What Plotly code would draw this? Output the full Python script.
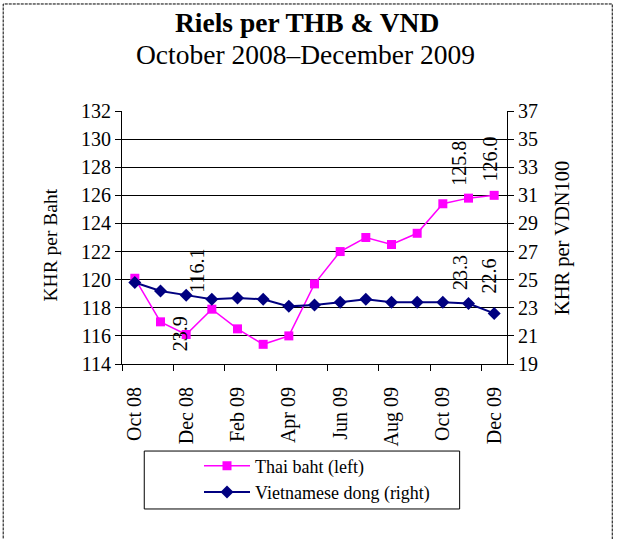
import plotly.graph_objects as go

months = ["Oct 08", "Nov 08", "Dec 08", "Jan 09", "Feb 09", "Mar 09", "Apr 09", "May 09",
          "Jun 09", "Jul 09", "Aug 09", "Sep 09", "Oct 09", "Nov 09", "Dec 09"]
thb = [120.1, 117.0, 116.1, 117.9, 116.5, 115.4, 116.0, 119.7, 122.0, 123.0, 122.5, 123.3, 125.4, 125.8, 126.0]
vnd = [24.8, 24.2, 23.9, 23.6, 23.7, 23.6, 23.1, 23.2, 23.4, 23.6, 23.4, 23.4, 23.4, 23.3, 22.6]

# labelled points: (index, xshift, yshift)
thb_labels = [(2, 11, 64), (13, -9, 35), (14, -4, 36)]
vnd_labels = [(2, -6, -39), (13, -9, 31), (14, -5, 37)]

FONT = "Liberation Serif, Times New Roman, serif"
idx = list(range(len(months)))

fig = go.Figure()
fig.add_trace(go.Scatter(
    x=idx, y=thb, name="Thai baht (left)", mode="lines+markers",
    line=dict(color="#FF00FF", width=1.5),
    marker=dict(symbol="square", size=9, color="#FF00FF"),
    yaxis="y"))
fig.add_trace(go.Scatter(
    x=idx, y=vnd, name="Vietnamese dong (right)", mode="lines+markers",
    line=dict(color="#000080", width=2),
    marker=dict(symbol="diamond", size=10, color="#000080"),
    yaxis="y2"))

annotations = []
for i, xs, ys in thb_labels:
    annotations.append(dict(x=i, y=thb[i], xref="x", yref="y", text=f"{thb[i]:.1f}",
                            textangle=-90, showarrow=False, xanchor="center", yanchor="middle",
                            xshift=xs, yshift=ys, font=dict(family=FONT, size=20, color="black")))
for i, xs, ys in vnd_labels:
    annotations.append(dict(x=i, y=vnd[i], xref="x", yref="y2", text=f"{vnd[i]:.1f}",
                            textangle=-90, showarrow=False, xanchor="center", yanchor="middle",
                            xshift=xs, yshift=ys, font=dict(family=FONT, size=20, color="black")))

# titles
annotations.append(dict(x=0.4806, y=1.348, xref="paper", yref="paper", text="<b>Riels per THB & VND</b>",
                        showarrow=False, xanchor="center", yanchor="middle",
                        font=dict(family=FONT, size=27.5, color="black")))
annotations.append(dict(x=0.4754, y=1.225, xref="paper", yref="paper", text="October 2008–December 2009",
                        showarrow=False, xanchor="center", yanchor="middle",
                        font=dict(family=FONT, size=27.5, color="black")))
annotations.append(dict(x=-0.186, y=0.47, xref="paper", yref="paper", text="KHR per Baht",
                        textangle=-90, showarrow=False, xanchor="center", yanchor="middle",
                        font=dict(family=FONT, size=19.5, color="black")))
annotations.append(dict(x=1.1445, y=0.5, xref="paper", yref="paper", text="KHR per VDN100",
                        textangle=-90, showarrow=False, xanchor="center", yanchor="middle",
                        font=dict(family=FONT, size=20.5, color="black")))

shapes = [
    dict(type="rect", xref="paper", yref="paper", x0=-0.3086, x1=1.2734, y0=-0.8, y1=1.423,
         line=dict(color="black", width=1, dash="3px,1px"), fillcolor="rgba(0,0,0,0)", layer="below"),
    dict(type="rect", xref="paper", yref="paper", x0=0.0578, x1=0.877, y0=-0.573, y1=-0.344,
         line=dict(color="black", width=1), fillcolor="rgba(0,0,0,0)", layer="below"),
]

fig.update_layout(
    width=617, height=539,
    margin=dict(l=122, r=110, t=111, b=175, autoexpand=False),
    paper_bgcolor="white", plot_bgcolor="white",
    font=dict(family=FONT, size=20, color="black"),
    showlegend=True,
    legend=dict(x=0.2, y=-0.33, xanchor="left", yanchor="top", bgcolor="rgba(0,0,0,0)",
                font=dict(family=FONT, size=18, color="black"), itemwidth=46, tracegroupgap=0),
    xaxis=dict(range=[-0.5, len(months) - 0.5], tickmode="array", tickvals=idx[::2],
               ticktext=months[::2], tickangle=-90, ticks="", showline=True, linecolor="black",
               linewidth=1, showgrid=False, zeroline=False, ticklabelstandoff=14,
               tickfont=dict(family=FONT, size=20, color="black"),
               minor=dict(ticks="outside", ticklen=6, tickcolor="black", tick0=-0.5, dtick=2,
                          showgrid=False)),
    yaxis=dict(range=[114, 132], dtick=2, tick0=114, showline=True, linecolor="black", linewidth=1,
               showgrid=True, gridcolor="black", gridwidth=1, zeroline=False,
               ticks="outside", ticklen=6, tickcolor="black",
               tickfont=dict(family=FONT, size=20, color="black")),
    yaxis2=dict(range=[19, 37], dtick=2, tick0=19, overlaying="y", side="right", showline=True,
                linecolor="black", linewidth=1, showgrid=False, zeroline=False,
                ticks="outside", ticklen=6, tickcolor="black",
                tickfont=dict(family=FONT, size=20, color="black")),
    annotations=annotations, shapes=shapes,
)

fig.write_html("out.html", config={"displayModeBar": False},
               post_script="document.body.style.margin='0';")
